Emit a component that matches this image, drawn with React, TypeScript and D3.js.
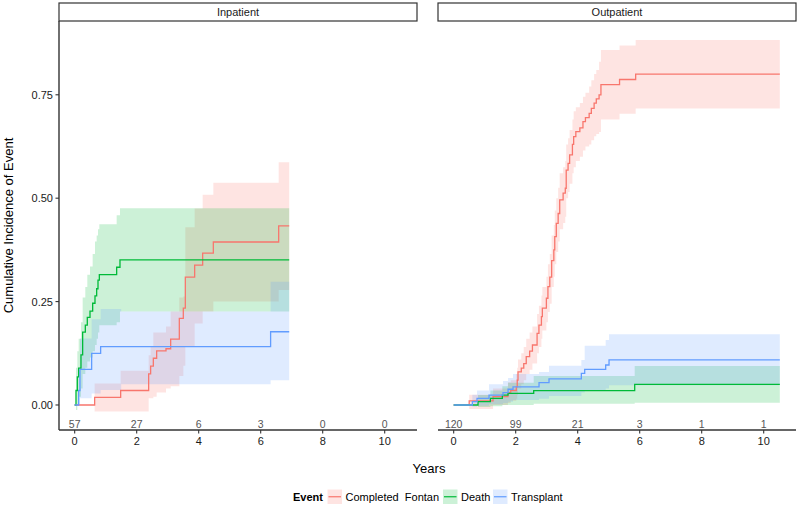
import React from 'react';
import * as d3 from 'd3';

const panels = ['Inpatient', 'Outpatient'];
const eventNames = ['Completed  Fontan', 'Death', 'Transplant'];
const eventColors = ['#F8766D', '#00BA38', '#619CFF'];
const xTicks = [0, 2, 4, 6, 8, 10];
const yTicks = [0, 0.25, 0.5, 0.75];
const yTickLabels = ['0.00', '0.25', '0.50', '0.75'];
const riskInpatient = [57, 27, 6, 3, 0, 0];
const riskOutpatient = [120, 99, 21, 3, 1, 1];
const endInpatient = 6.92;
const endOutpatient = 10.52;

// Inpatient – Completed Fontan
const inFontanT = [0, 0.644, 1.483, 2.386, 2.45, 2.537, 2.644, 2.945, 3.096, 3.375, 3.504, 3.569, 3.87, 4.128, 4.472, 6.58];
const inFontanV = [0, 0.0185, 0.035, 0.075, 0.094, 0.113, 0.131, 0.136, 0.159, 0.2095, 0.234, 0.309, 0.338, 0.367, 0.394, 0.433];
const inFontanLo = [0, -0.016, -0.016, 0.016, 0.016, 0.02, 0.03, 0.04, 0.045, 0.07, 0.095, 0.14, 0.197, 0.226, 0.25, 0.278];
const inFontanHi = [0, 0.052, 0.083, 0.12, 0.14, 0.175, 0.175, 0.19, 0.226, 0.26, 0.262, 0.43, 0.475, 0.508, 0.5375, 0.587];

// Inpatient – Death
const inDeathT = [0, 0.042, 0.085, 0.128, 0.203, 0.257, 0.343, 0.407, 0.494, 0.58, 0.655, 0.709, 0.752, 0.795, 1.354, 1.461];
const inDeathV = [0, 0.035, 0.068, 0.089, 0.121, 0.176, 0.193, 0.212, 0.227, 0.246, 0.264, 0.281, 0.302, 0.315, 0.333, 0.351];
const inDeathLo = [0, -0.012, 0.0, 0.02, 0.04, 0.075, 0.09, 0.105, 0.115, 0.13, 0.145, 0.16, 0.175, 0.193, 0.2, 0.226];
const inDeathHi = [0, 0.09, 0.13, 0.16, 0.2, 0.26, 0.285, 0.315, 0.335, 0.365, 0.395, 0.41, 0.425, 0.437, 0.459, 0.4755];

// Inpatient – Transplant
const inTransT = [0, 0.128, 0.171, 0.547, 0.837, 1.5, 6.32];
const inTransV = [0, 0.035, 0.086, 0.125, 0.141, 0.141, 0.177];
const inTransLo = [0, 0.0, 0.016, 0.028, 0.036, 0.05, 0.06];
const inTransHi = [0, 0.09, 0.161, 0.207, 0.232, 0.226, 0.298];

// Outpatient – Completed Fontan
const outFontanT = [0, 0.5, 1.27, 1.75, 1.84, 2.02, 2.05, 2.075, 2.18, 2.26, 2.34, 2.45, 2.54, 2.69, 2.75, 2.83, 2.86, 2.99, 3.04, 3.1, 3.16, 3.23, 3.26, 3.31, 3.37, 3.42, 3.53, 3.6, 3.63, 3.69, 3.74, 3.83, 3.87, 3.94, 4.07, 4.17, 4.25, 4.37, 4.44, 4.53, 4.6, 4.69, 4.75, 5.35, 5.87];
const outFontanV = [0, 0.01, 0.02, 0.03, 0.035, 0.044, 0.06, 0.08, 0.089, 0.1, 0.117, 0.13, 0.145, 0.173, 0.193, 0.2135, 0.234, 0.258, 0.286, 0.309, 0.349, 0.375, 0.407, 0.439, 0.463, 0.496, 0.512, 0.524, 0.568, 0.584, 0.6045, 0.63, 0.649, 0.661, 0.67, 0.685, 0.695, 0.705, 0.717, 0.73, 0.74, 0.75, 0.7745, 0.787, 0.8];
const outFontanLo = [0, -0.01, 0.0, 0.005, 0.01, 0.015, 0.025, 0.04, 0.05, 0.06, 0.075, 0.085, 0.1, 0.125, 0.14, 0.16, 0.18, 0.2, 0.225, 0.245, 0.285, 0.31, 0.34, 0.37, 0.395, 0.425, 0.44, 0.455, 0.5, 0.515, 0.535, 0.56, 0.575, 0.59, 0.6, 0.615, 0.625, 0.63, 0.64, 0.65, 0.655, 0.66, 0.69, 0.704, 0.717];
const outFontanHi = [0, 0.025, 0.04, 0.055, 0.06, 0.075, 0.09, 0.11, 0.125, 0.14, 0.16, 0.175, 0.19, 0.22, 0.24, 0.265, 0.285, 0.31, 0.34, 0.365, 0.41, 0.435, 0.47, 0.5, 0.525, 0.56, 0.575, 0.59, 0.63, 0.645, 0.665, 0.69, 0.71, 0.72, 0.73, 0.745, 0.755, 0.77, 0.785, 0.8, 0.81, 0.83, 0.858, 0.869, 0.8825];

// Outpatient – Death
const outDeathT = [0, 0.785, 1.183, 1.57, 1.753, 2.581, 5.839];
const outDeathV = [0, 0.008, 0.016, 0.024, 0.028, 0.0347, 0.05];
const outDeathLo = [0, -0.005, -0.003, 0.0, 0.0, 0.003, 0.0056];
const outDeathHi = [0, 0.024, 0.035, 0.045, 0.054, 0.07, 0.094];

// Outpatient – Transplant
const outTransT = [0, 0.602, 0.753, 1.14, 1.591, 1.753, 1.914, 2.753, 3.075, 4.118, 4.226, 4.903, 5.011];
const outTransV = [0, 0.008, 0.016, 0.024, 0.03, 0.038, 0.044, 0.054, 0.063, 0.0766, 0.086, 0.0967, 0.109];
const outTransLo = [0, -0.004, -0.002, 0.002, 0.005, 0.008, 0.012, 0.015, 0.022, 0.03, 0.035, 0.04, 0.048];
const outTransHi = [0, 0.025, 0.035, 0.05, 0.058, 0.065, 0.075, 0.08, 0.095, 0.109, 0.143, 0.157, 0.171];

type Pt = { t: number; v: number; lo: number; hi: number };

function build(t: number[], v: number[], lo: number[], hi: number[], end: number): Pt[] {
  const pts: Pt[] = t.map((tt, i) => ({ t: tt, v: v[i], lo: lo[i], hi: hi[i] }));
  const last = pts[pts.length - 1];
  pts.push({ t: end, v: last.v, lo: last.lo, hi: last.hi });
  return pts;
}

const panelSeries: Pt[][][] = [
  [
    build(inFontanT, inFontanV, inFontanLo, inFontanHi, endInpatient),
    build(inDeathT, inDeathV, inDeathLo, inDeathHi, endInpatient),
    build(inTransT, inTransV, inTransLo, inTransHi, endInpatient),
  ],
  [
    build(outFontanT, outFontanV, outFontanLo, outFontanHi, endOutpatient),
    build(outDeathT, outDeathV, outDeathLo, outDeathHi, endOutpatient),
    build(outTransT, outTransV, outTransLo, outTransHi, endOutpatient),
  ],
];
const riskTables = [riskInpatient, riskOutpatient];

const W = 800;
const H = 507;
const panelX = [
  [59, 417],
  [438, 796],
];
const panelTop = 21;
const panelBottom = 430;
const stripTop = 3;
const font = 'Liberation Sans, Arial, sans-serif';

export default function App() {
  const y = d3.scaleLinear().domain([-0.0605, 0.9284]).range([panelBottom, panelTop]);

  return (
    <svg width={W} height={H} style={{ position: 'absolute', left: 0, top: 0, background: '#fff' }} fontFamily={font}>
      {panels.map((name, p) => {
        const [x0, x1] = panelX[p];
        const x = d3.scaleLinear().domain([-0.506, 11.042]).range([x0, x1]);
        const area = d3
          .area<Pt>()
          .x((d) => x(d.t))
          .y0((d) => y(d.lo))
          .y1((d) => y(d.hi))
          .curve(d3.curveStepAfter);
        const line = d3
          .line<Pt>()
          .x((d) => x(d.t))
          .y((d) => y(d.v))
          .curve(d3.curveStepAfter);
        return (
          <g key={name}>
            <rect x={x0} y={stripTop} width={x1 - x0} height={panelTop - stripTop} fill="#fff" stroke="#333" strokeWidth={1.2} />
            <text x={(x0 + x1) / 2} y={16} textAnchor="middle" fontSize={11} fill="#1a1a1a">
              {name}
            </text>
            {panelSeries[p].map((s, i) => (
              <path key={'a' + i} d={area(s) || ''} fill={eventColors[i]} fillOpacity={0.2} stroke="none" />
            ))}
            {panelSeries[p].map((s, i) => (
              <path key={'l' + i} d={line(s) || ''} fill="none" stroke={eventColors[i]} strokeWidth={1.3} />
            ))}
            {xTicks.map((t, i) => (
              <text key={'r' + t} x={x(t)} y={427.5} textAnchor="middle" fontSize={10.5} fill="#555">
                {riskTables[p][i]}
              </text>
            ))}
            <line x1={x0} x2={x1} y1={panelBottom} y2={panelBottom} stroke="#333" strokeWidth={1.4} />
            {xTicks.map((t) => (
              <g key={'xt' + t}>
                <line x1={x(t)} x2={x(t)} y1={panelBottom} y2={panelBottom + 3.5} stroke="#333" strokeWidth={1.1} />
                <text x={x(t)} y={445} textAnchor="middle" fontSize={11} fill="#1a1a1a">
                  {t}
                </text>
              </g>
            ))}
            {p === 0 && (
              <g>
                <line x1={x0} x2={x0} y1={panelTop} y2={panelBottom} stroke="#333" strokeWidth={1.4} />
                {yTicks.map((v, i) => (
                  <g key={'yt' + v}>
                    <line x1={x0 - 3.5} x2={x0} y1={y(v)} y2={y(v)} stroke="#333" strokeWidth={1.1} />
                    <text x={x0 - 6} y={y(v) + 4} textAnchor="end" fontSize={11} fill="#1a1a1a">
                      {yTickLabels[i]}
                    </text>
                  </g>
                ))}
              </g>
            )}
          </g>
        );
      })}
      <text x={429} y={473} textAnchor="middle" fontSize={13} fill="#000">
        Years
      </text>
      <text transform={`translate(13,${(panelTop + panelBottom) / 2}) rotate(-90)`} textAnchor="middle" fontSize={13} fill="#000">
        Cumulative Incidence of Event
      </text>
      <text x={293} y={501} fontSize={11} fontWeight="bold" fill="#000">
        Event
      </text>
      {(() => {
        const keyX = [327.5, 443, 493];
        return eventNames.map((n, i) => (
          <g key={n}>
            <rect x={keyX[i]} y={489.5} width={14.5} height={14.5} fill={eventColors[i]} fillOpacity={0.2} />
            <line x1={keyX[i] + 1} x2={keyX[i] + 13.5} y1={496.75} y2={496.75} stroke={eventColors[i]} strokeWidth={1.2} />
            <text x={keyX[i] + 18} y={501} fontSize={11} fill="#000" style={{ whiteSpace: 'pre' }}>
              {n}
            </text>
          </g>
        ));
      })()}
    </svg>
  );
}
